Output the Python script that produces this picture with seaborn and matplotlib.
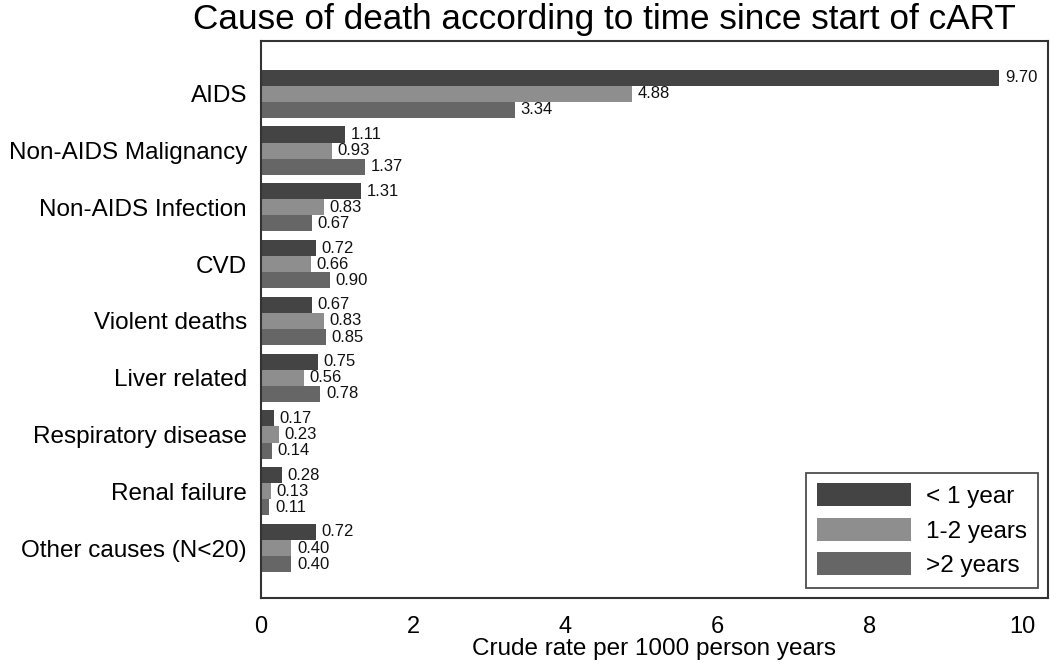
import matplotlib
matplotlib.use("Agg")
import matplotlib.pyplot as plt
import seaborn as sns
import pandas as pd

categories = ["AIDS", "Non-AIDS Malignancy", "Non-AIDS Infection", "CVD",
              "Violent deaths", "Liver related", "Respiratory disease",
              "Renal failure", "Other causes (N<20)"]
series_names = ["< 1 year", "1-2 years", ">2 years"]
lt1_year = [9.70, 1.11, 1.31, 0.72, 0.67, 0.75, 0.17, 0.28, 0.72]
y1_2 = [4.88, 0.93, 0.83, 0.66, 0.83, 0.56, 0.23, 0.13, 0.40]
gt2_years = [3.34, 1.37, 0.67, 0.90, 0.85, 0.78, 0.14, 0.11, 0.40]
colors = ["#444444", "#8e8e8e", "#666666"]
xticks = [0, 2, 4, 6, 8, 10]

sns.set_theme(style="white")
plt.rcParams['font.family'] = ['Liberation Sans', 'DejaVu Sans']
plt.rcParams['text.color'] = 'black'
plt.rcParams['axes.labelcolor'] = 'black'
plt.rcParams['xtick.color'] = 'black'
plt.rcParams['ytick.color'] = 'black'

rows = []
for vals, name in zip([lt1_year, y1_2, gt2_years], series_names):
    for c, v in zip(categories, vals):
        rows.append({"cause": c, "rate": v, "period": name})
df = pd.DataFrame(rows)

fig = plt.figure(figsize=(10.5, 6.66), dpi=100)
ax = fig.add_axes([261/1050, 1-598/666, (1048-261)/1050, (598-41)/666])

sns.barplot(data=df, y="cause", x="rate", hue="period", order=categories,
            hue_order=series_names, palette=colors, orient="h", width=0.85,
            saturation=1, ax=ax, edgecolor="none")

for cont in ax.containers:
    labels = [f"{v:.2f}" for v in cont.datavalues]
    ax.bar_label(cont, labels=labels, padding=4, fontsize=12, color="#111111")

ax.set_xlim(0, 10.34)
ax.set_ylim(8.88, -0.93)
ax.set_xticks(xticks)
ax.set_xticklabels([str(t) for t in xticks], fontsize=17)
ax.tick_params(axis="x", direction="out", length=7, width=1.2, color="#222222", pad=6)
ax.tick_params(axis="y", length=0, labelsize=17.5, pad=10)
ax.set_ylabel("")
ax.set_xlabel("Crude rate per 1000 person years", fontsize=17.5, labelpad=0)
for s in ax.spines.values():
    s.set_visible(True)
    s.set_color("#333333")
    s.set_linewidth(1.5)

leg = ax.legend(loc="lower right", fontsize=17.5, frameon=True, fancybox=False,
                edgecolor="#222222", handlelength=3.87, handleheight=1.07,
                borderpad=0.45, labelspacing=0.4, handletextpad=0.6,
                borderaxespad=0, bbox_to_anchor=(1 - 10/787, 10/557))
leg.get_frame().set_linewidth(1.3)

fig.text(604/1050, 1-20/666, "Cause of death according to time since start of cART",
         ha="center", va="center", fontsize=25.3)

fig.savefig("out.png", dpi=100)
